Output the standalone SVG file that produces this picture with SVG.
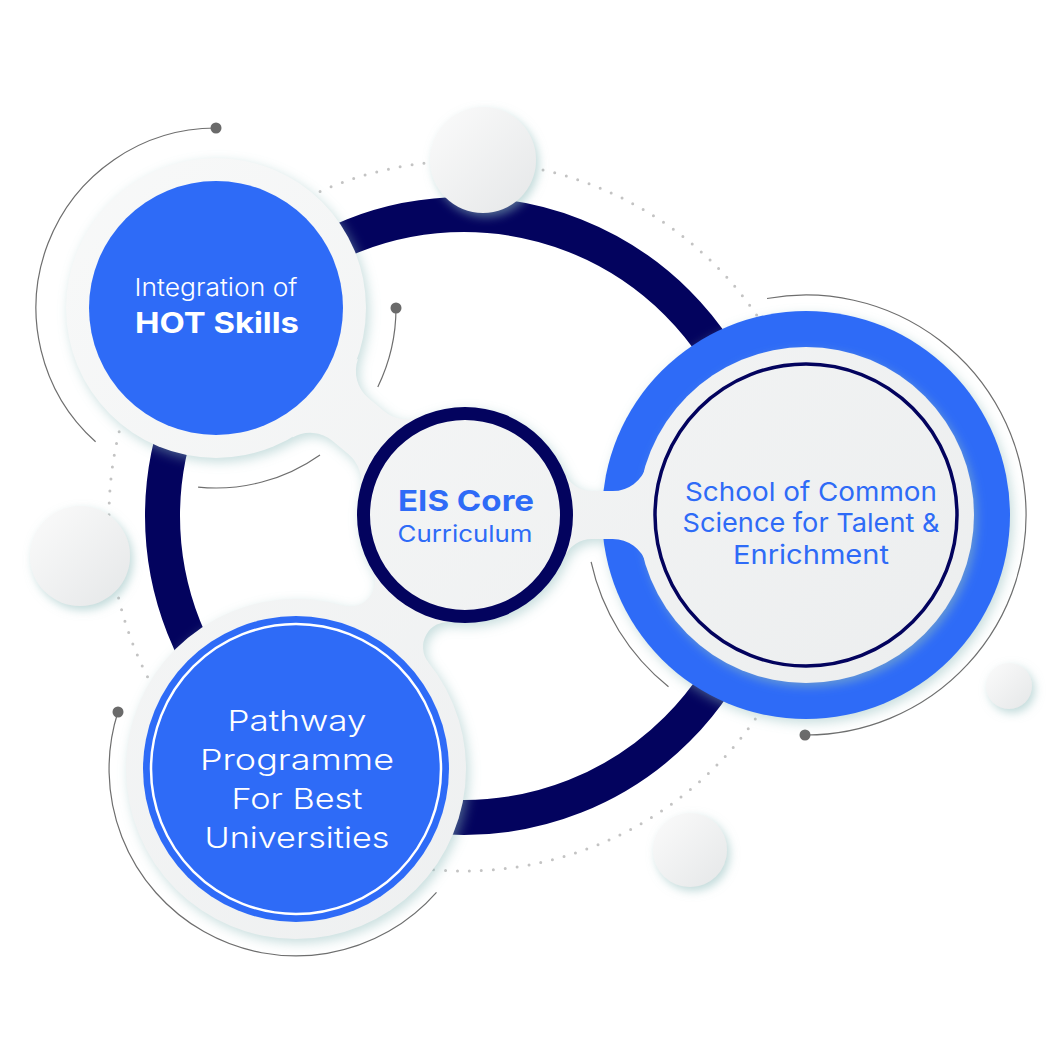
<svg xmlns="http://www.w3.org/2000/svg" width="1062" height="1062" viewBox="0 0 1062 1062">
<defs>
<style>
.txt{font-family:Inter,"Noto Sans","DejaVu Sans",sans-serif;text-anchor:middle}
.w{fill:#ffffff}
.b{fill:#2e6bf7}
.lt{font-weight:300}
.rg{font-weight:400}
.bd{font-weight:700}
.arc{fill:none;stroke:#6e6e6e;stroke-width:1.2}
.dot{fill:#6a6a6a}
.light{fill:url(#lg)}
.deco{fill:url(#sg);filter:url(#ds)}
</style>
<linearGradient id="lg" gradientUnits="userSpaceOnUse" x1="100" y1="100" x2="950" y2="950">
<stop offset="0" stop-color="#f8f9f9"/><stop offset="1" stop-color="#eaeced"/>
</linearGradient>
<linearGradient id="sg" x1="0" y1="0" x2="1" y2="1">
<stop offset="0" stop-color="#fbfbfb"/><stop offset="1" stop-color="#e5e7e8"/>
</linearGradient>
<filter id="sh" x="-10%" y="-10%" width="120%" height="120%">
<feGaussianBlur in="SourceAlpha" stdDeviation="6"/>
<feOffset dx="3" dy="4" result="o"/>
<feFlood flood-color="#8fbcbc" flood-opacity="0.5"/>
<feComposite in2="o" operator="in"/>
</filter>
<filter id="ds" x="-30%" y="-30%" width="160%" height="160%">
<feGaussianBlur in="SourceAlpha" stdDeviation="5" result="bl"/>
<feOffset in="bl" dx="3" dy="4" result="o"/>
<feFlood flood-color="#8fbcbc" flood-opacity="0.55"/>
<feComposite in2="o" operator="in" result="s"/>
<feMerge><feMergeNode in="s"/><feMergeNode in="SourceGraphic"/></feMerge>
</filter>
<circle id="s-hot" cx="216" cy="308" r="150"/>
<circle id="s-path" cx="296" cy="769" r="170"/>
<circle id="s-school" cx="806" cy="515" r="204"/>
<circle id="s-core" cx="465" cy="515" r="108"/>
<path id="c-school" d="M500,515 L564.4,472.7 A30 30 0 0 0 592,491 L612.8,491 A35 35 0 0 0 646.3,466.2 L650,515 L646.3,563.8 A35 35 0 0 0 612.8,539 L592,539 A30 30 0 0 0 564.4,557.3 Z"/>
<path id="c-hot" d="M292.5,437.6 A35 35 0 0 1 332.6,440.9 L348.5,454.2 A35 35 0 0 1 360,489.4 L430,480 L421,416.3 A35 35 0 0 1 384.3,411.2 L368.4,397.9 A35 35 0 0 1 358,359.1 L300,380 Z"/>
<path id="c-path" d="M343,605.6 A25 25 0 0 0 371.5,569.1 L440,560 L451.2,622.1 A25 25 0 0 0 428.5,662.5 L350,680 Z"/>
</defs>

<rect width="1062" height="1062" fill="#ffffff"/>

<g id="decoration">
<circle cx="464" cy="516" r="355" fill="none" stroke="#c3c3c3" stroke-width="3" stroke-linecap="round" stroke-dasharray="0 12"/>
<path class="arc" d="M216,128 A180 180 0 0 0 95.6,441.8"/>
<path class="arc" d="M198.1,487.1 A180 180 0 0 0 320,454.9"/>
<path class="arc" d="M396,308 A180 180 0 0 1 377.8,386.9"/>
<path class="arc" d="M118,711.8 A187 187 0 0 0 436.5,892.4"/>
<path class="arc" d="M767,298.5 A220 220 0 1 1 804.8,735"/>
<path class="arc" d="M591.1,561.9 A220 220 0 0 0 668.5,686.7"/>
<circle class="dot" cx="216" cy="128" r="5.5"/>
<circle class="dot" cx="396" cy="308" r="5.5"/>
<circle class="dot" cx="118" cy="712" r="5.5"/>
<circle class="dot" cx="805" cy="735" r="5.5"/>
<circle cx="464" cy="516" r="301.5" fill="none" stroke="#03035e" stroke-width="35"/>
</g>

<g id="shadows" filter="url(#sh)" fill="#000">
<use href="#s-hot"/><use href="#s-path"/><use href="#s-school"/><use href="#s-core"/>
<use href="#c-school"/><use href="#c-hot"/><use href="#c-path"/>
</g>

<g id="node-school">
<use href="#s-school" fill="#2e6bf7"/>
<circle cx="806" cy="515" r="168" class="light" filter="url(#ds)"/>
<circle cx="806" cy="515" r="151" fill="none" stroke="#03035e" stroke-width="3.5"/>
<text class="txt b rg" font-size="26" x="811" y="501" textLength="252" lengthAdjust="spacingAndGlyphs">School of Common</text>
<text class="txt b rg" font-size="26" x="811" y="532" textLength="257" lengthAdjust="spacingAndGlyphs">Science for Talent &amp;</text>
<text class="txt b rg" font-size="26" x="811" y="564" textLength="156" lengthAdjust="spacingAndGlyphs">Enrichment</text>
</g>

<g id="connectors">
<use href="#c-school" class="light"/>
<use href="#c-hot" class="light"/>
<use href="#c-path" class="light"/>
</g>

<g id="node-hot">
<use href="#s-hot" class="light"/>
<circle cx="216" cy="308" r="127" fill="#2e6bf7"/>
<text class="txt w lt" font-size="24" x="216" y="296" textLength="163" lengthAdjust="spacingAndGlyphs">Integration of</text>
<text class="txt w bd" font-size="28" x="217" y="333" textLength="164" lengthAdjust="spacingAndGlyphs">HOT Skills</text>
</g>

<g id="node-pathway">
<use href="#s-path" class="light"/>
<circle cx="296" cy="769" r="153" fill="#2e6bf7"/>
<circle cx="296" cy="769" r="145" fill="none" stroke="#ffffff" stroke-width="2.5"/>
<text class="txt w lt" font-size="29" x="297" y="731" textLength="139" lengthAdjust="spacingAndGlyphs">Pathway</text>
<text class="txt w lt" font-size="29" x="297" y="770" textLength="194" lengthAdjust="spacingAndGlyphs">Programme</text>
<text class="txt w lt" font-size="29" x="297" y="809" textLength="131" lengthAdjust="spacingAndGlyphs">For Best</text>
<text class="txt w lt" font-size="29" x="297" y="848" textLength="185" lengthAdjust="spacingAndGlyphs">Universities</text>
</g>

<g id="node-core">
<circle cx="465" cy="515" r="101.5" class="light" stroke="#03035e" stroke-width="13"/>
<text class="txt b bd" font-size="29" x="466" y="511" textLength="136" lengthAdjust="spacingAndGlyphs">EIS Core</text>
<text class="txt b rg" font-size="23" x="465" y="542" textLength="135" lengthAdjust="spacingAndGlyphs">Curriculum</text>
</g>

<g id="bubbles">
<circle class="deco" cx="483" cy="160" r="53"/>
<circle class="deco" cx="80" cy="556" r="50"/>
<circle class="deco" cx="1009" cy="686" r="23"/>
<circle class="deco" cx="690" cy="850" r="37"/>
</g>
</svg>
